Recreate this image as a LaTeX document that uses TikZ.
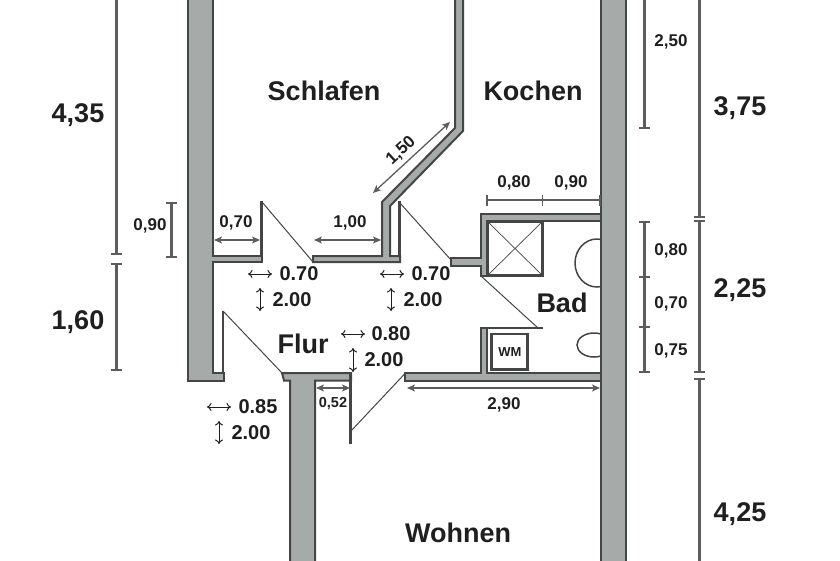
\documentclass[tikz,border=0pt]{standalone}
\usepackage{fontspec}
\setmainfont{Liberation Sans}
\usetikzlibrary{arrows.meta}
\definecolor{wallfill}{HTML}{A6AAA8}
\definecolor{walledge}{HTML}{444646}
\definecolor{dimline}{HTML}{5C5E5E}
\definecolor{ink}{HTML}{1F1F1F}
\tikzset{
  x=1pt,y=-1pt,
  wall/.style={fill=wallfill,draw=walledge,line width=2pt,line join=miter},
  jamb/.style={draw=walledge,line width=2.4pt},
  leaf/.style={draw=walledge,line width=1pt},
  fixture/.style={draw=walledge,line width=1.5pt},
  dimbar/.style={draw=dimline,line width=3pt},
  dimtick/.style={draw=dimline,line width=1.6pt},
  meas/.style={draw=dimline,line width=1.3pt,{Stealth[length=8pt,width=7pt,inset=2pt]}-{Stealth[length=8pt,width=7pt,inset=2pt]}},
  size/.style={draw=ink,line width=1pt,{To[length=4.5pt,width=8pt]}-{To[length=4.5pt,width=8pt]}},
  room/.style={font=\bfseries\fontsize{27}{27}\selectfont,text=ink,inner sep=0pt},
  major/.style={font=\bfseries\fontsize{27}{27}\selectfont,text=ink,inner sep=0pt},
  minor/.style={font=\bfseries\fontsize{17}{17}\selectfont,text=ink,inner sep=0pt},
  door/.style={font=\bfseries\fontsize{20}{20}\selectfont,text=ink,inner sep=0pt},
}
\begin{document}
\begin{tikzpicture}
\useasboundingbox[fill=white] (0,0) rectangle (840,560);
\begin{scope}
\clip (0,0) rectangle (840,560);
% fixtures behind the wall
\draw[fixture] (597,263) ellipse[x radius=22,y radius=24];
\draw[fixture] (594,345) ellipse[x radius=17,y radius=12];
% walls
\draw[wall] (188,-5)--(213,-5)--(213,256)--(262,256)--(262,262)--(213,262)--(213,372.5)--(224,372.5)--(224,380.5)--(188,380.5)--cycle;
\draw[wall] (313,256)--(382,256)--(382,202)--(455,128)--(455,-5)--(463,-5)--(463,131)--(390,206)--(390,256)--(400,256)--(400,262)--(313,262)--cycle;
\draw[wall] (601,213.5)--(480.5,213.5)--(480.5,258)--(451,258)--(451,265.5)--(480.5,265.5)--(480.5,276)--(487,276)--(487,221)--(601,221)--cycle;
\draw[wall] (405,373)--(480.5,373)--(480.5,328)--(487,328)--(487,373)--(601,373)--(601,380.5)--(405,380.5)--cycle;
\draw[wall] (282,373)--(351,373)--(351,380.5)--(315,380.5)--(315,565)--(290,565)--(290,380.5)--(284,380.5)--cycle;
\draw[wall] (601,-5) rectangle (625.5,565);
% door jambs and leaves
\draw[jamb] (261.5,201)--(261.5,256);
\draw[jamb] (223,311)--(223,373);
\draw[jamb] (399.5,201)--(399.5,256);
\draw[jamb] (350.5,373)--(350.5,444);
\draw[jamb] (487,328)--(543,328);
\draw[leaf] (262,202)--(313,262);
\draw[leaf] (400,203)--(451,260);
\draw[leaf] (223,311)--(282,373);
\draw[leaf] (351,431)--(405,373.5);
\draw[leaf] (481,276)--(538,328);
% fixtures
\draw[draw=walledge,line width=2.6pt] (487.5,221.5) rectangle (542.5,275.5);
\draw[draw=walledge,line width=0.7pt] (488,222)--(542,275) (542,222)--(488,275);
\draw[draw=walledge,line width=2.6pt] (491.5,334) rectangle (527.5,369.5);
\node[inner sep=0pt,font=\bfseries\fontsize{13}{13}\selectfont,text=ink] (wm) at (510,352) {WM};
% room names
\node[room] (schlafen) at (324,90.5) {Schlafen};
\node[room] (kochen) at (533,90.5) {Kochen};
\node[room] (bad) at (562,302.5) {Bad};
\node[room] (flur) at (303,343.5) {Flur};
\node[room] (wohnen) at (458,532.5) {Wohnen};
% chain dimensions
\draw[dimbar] (116,-5)--(116,254) (116,264)--(116,370);
\draw[dimtick] (110.5,254)--(121.5,254) (110.5,264)--(121.5,264) (110.5,370)--(121.5,370);
\draw[dimbar] (171,203)--(171,257);
\draw[dimtick] (165.5,203)--(176.5,203) (165.5,257)--(176.5,257);
\draw[dimbar] (644.5,-5)--(644.5,128) (644.5,222)--(644.5,372);
\draw[dimtick] (639,128)--(650,128) (639,222)--(650,222) (639,277)--(650,277) (639,327)--(650,327) (639,372)--(650,372);
\draw[dimbar] (699,-5)--(699,217) (699,221)--(699,372) (699,379)--(699,565);
\draw[dimtick] (693.5,217)--(704.5,217) (693.5,221)--(704.5,221) (693.5,372)--(704.5,372) (693.5,379)--(704.5,379);
\draw[dimbar,line width=2.6pt] (487,200)--(600,200);
\draw[dimtick] (487,194.5)--(487,205.5) (542.5,194.5)--(542.5,205.5) (600,194.5)--(600,205.5);
\node[major] (d435) at (78,115) {4,35};
\node[major] (d160) at (78,322) {1,60};
\node[major] (d375) at (740,108) {3,75};
\node[major] (d225) at (740,290) {2,25};
\node[major] (d425) at (740,514.5) {4,25};
\node[minor] (d090l) at (150,225.5) {0,90};
\node[minor] (d250) at (671,41.5) {2,50};
\node[minor] (d080r) at (671,250.5) {0,80};
\node[minor] (d070r) at (671,303.5) {0,70};
\node[minor] (d075r) at (671,350.5) {0,75};
\node[minor] (d080t) at (514,182.5) {0,80};
\node[minor] (d090t) at (571,182.5) {0,90};
% arrow dimensions
\draw[meas] (214,240)--(260,240);
\draw[meas] (314,240)--(381,240);
\draw[meas] (316,388)--(350,388);
\draw[meas] (407,388)--(600,388);
\draw[meas] (373,193)--(450,122);
\node[minor] (d070a) at (236,222.5) {0,70};
\node[minor] (d100) at (350,222.5) {1,00};
\node[minor,font=\bfseries\fontsize{14.5}{15}\selectfont] (d052) at (333,404) {0,52};
\node[minor] (d290) at (504,404.5) {2,90};
\node[minor,rotate=43] (d150) at (401,151) {1,50};
% door sizes
\draw[size] (248,274)--(272,274);
\draw[size] (260,288)--(260,311);
\node[door] (s1w) at (299,274) {0.70};
\node[door] (s1h) at (292,300) {2.00};
\draw[size] (380,274)--(404,274);
\draw[size] (391,288)--(391,311);
\node[door] (s2w) at (431,274) {0.70};
\node[door] (s2h) at (423,300) {2.00};
\draw[size] (341,334)--(365,334);
\draw[size] (353,348)--(353,372);
\node[door] (s3w) at (391,334) {0.80};
\node[door] (s3h) at (384,360) {2.00};
\draw[size] (207,407)--(231,407);
\draw[size] (219,421)--(219,444);
\node[door] (s4w) at (258,407) {0.85};
\node[door] (s4h) at (251,433) {2.00};
\end{scope}
\end{tikzpicture}
\end{document}
